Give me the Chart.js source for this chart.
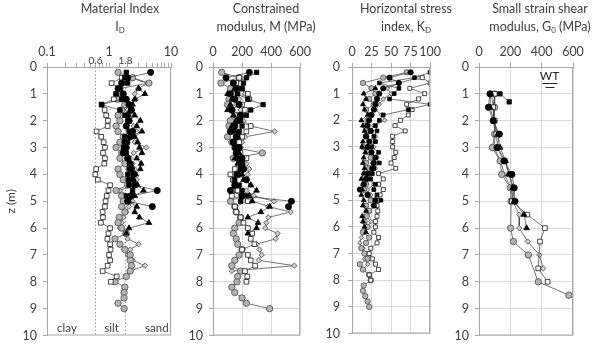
<!DOCTYPE html>
<html>
<head>
<meta charset="utf-8">
<script src="https://cdn.jsdelivr.net/npm/chart.js@4.4.1/dist/chart.umd.min.js"></script>
<style>
  html, body { margin: 0; padding: 0; background: #fff; }
  #wrap { position: relative; width: 594px; height: 349px; overflow: hidden; font-family: Lato, "Open Sans", sans-serif; color: #404040; }
  #wrap canvas { position: absolute; top: 0; }
  .ttl { position: absolute; top: 0; width: 130px; margin-left: -65px; text-align: center; font-size: 12.5px; line-height: 18px; white-space: nowrap; }
  .ttl sub { font-size: 8px; vertical-align: -2px; line-height: 0; }
</style>
</head>
<body>
<div id="wrap">
  <canvas id="cID" width="185" height="349" style="left:0"></canvas>
  <canvas id="cM" width="130" height="349" style="left:185px"></canvas>
  <canvas id="cKD" width="130" height="349" style="left:315px"></canvas>
  <canvas id="cG0" width="149" height="349" style="left:445px"></canvas>
  <div class="ttl" style="left:120px">Material Index<br>I<sub>D</sub></div>
  <div class="ttl" style="left:266px">Constrained<br>modulus, M (MPa)</div>
  <div class="ttl" style="left:406px">Horizontal stress<br>index, K<sub>D</sub></div>
  <div class="ttl" style="left:540px">Small strain shear<br>modulus, G<sub>0</sub> (MPa)</div>
</div>
<script>
// --- DMT soundings: depths (m) ---------------------------------------
const zA = [0.2,0.4,0.6,0.8,1.0,1.2,1.4,1.6,1.8,2.0,2.2,2.4,2.6,2.8,3.0,3.2,3.4,3.6,3.8,4.0,4.2,4.4,4.6,4.8,5.0,5.2];
const zB = [0.2,0.4,0.6,0.8,1.0,1.2,1.4,1.6,1.8,2.0,2.2,2.4,2.6,2.8,3.0,3.2,3.4,3.6,3.8,4.0,4.2,4.4,4.6,4.8,5.0];
const zC = [0.8,1.0,1.2,1.4,1.6,1.8,2.0,2.2,2.4,2.6,2.8,3.0,3.2,3.4,3.6,3.8,4.0,4.2,4.4,4.6,4.8,5.0,5.2,5.4,5.6,5.8,6.0,6.2];
const zD = [0.4,0.6,0.8,1.0,1.2,1.4,1.6,1.8,2.0,2.2,2.4,2.6,2.8,3.0,3.2,3.4,3.6,3.8,4.0,4.2,4.4,4.6,4.8,5.0,5.2,5.4,5.6,5.8,6.0,6.2,6.4,6.6,6.8,7.0,7.2,7.4,7.6,7.8,8.0];
const zE = [0.2,0.4,0.6,0.8,1.0,1.2,1.4,1.6,1.8,2.0,2.2,2.4,2.6,2.8,3.0,3.2,3.4,3.6,3.8,4.0,4.2,4.4,4.6,4.8,5.0,5.2,5.4,5.6,5.8,6.0,6.2,6.4,6.6,6.8,7.0,7.2,7.4,7.6,7.8,8.0,8.2,8.4,8.6,8.8,9.0];
const zF = [0.4,0.6,0.8,1.0,1.2,1.4,1.6,1.8,2.0,2.2,2.4,2.6,2.8,3.0,3.2,3.4,3.6,3.8,4.0,4.2,4.4,4.6,4.8,5.0,5.2,5.4,5.6,5.8,6.0,6.2,6.4,6.6,6.8,7.0,7.2,7.4,7.6];

// Material index ID
const idA = [4.7,2.0,1.6,1.4,1.7,1.9,2.1,2.3,2.0,2.1,1.9,2.4,2.2,1.8,1.9,1.7,2.0,2.2,2.3,2.5,2.1,2.6,6.0,2.3,2.0,5.0];
const idB = [1.9,1.8,2.0,1.5,1.3,1.6,0.76,1.5,1.8,2.0,1.9,2.1,1.8,2.0,1.7,1.9,2.0,2.2,2.1,2.0,2.3,2.1,2.4,1.9,2.0];
const idC = [3.0,3.8,2.6,2.4,2.2,2.6,3.2,2.8,3.4,2.6,2.9,3.1,3.4,2.8,3.3,3.2,2.7,2.5,2.9,3.6,2.6,2.1,2.8,2.6,3.1,4.4,2.1,1.9];
const idD = [1.6,1.1,1.5,1.3,1.2,0.76,0.85,0.9,0.96,0.95,0.63,0.75,0.82,0.86,0.8,0.86,0.84,0.62,0.6,0.66,1.04,0.98,0.92,0.88,0.86,0.79,0.8,0.74,1.04,0.98,0.94,1.04,1.06,1.0,1.04,0.95,0.79,1.33,1.07];
const idE = [1.4,2.4,4.4,1.5,1.6,1.4,1.8,1.6,1.4,1.5,1.3,1.4,1.7,1.5,1.3,1.6,1.5,1.8,1.4,1.5,1.7,2.0,1.3,1.6,1.7,1.6,1.8,1.46,1.4,1.6,1.9,1.25,1.5,1.8,2.2,2.2,2.3,2.2,1.9,1.25,1.8,1.75,1.75,1.4,1.75];
const idF = [2.2,4.2,3.0,2.6,2.7,2.3,2.0,2.4,2.2,2.5,2.8,2.3,2.6,4.0,2.5,2.2,2.4,2.6,2.3,2.8,2.4,1.5,2.1,2.4,2.1,1.9,1.7,1.6,1.5,1.8,2.0,3.0,2.2,2.0,2.4,3.8,2.2];

// Constrained modulus M (MPa)
const mA = [250,90,140,160,120,150,180,130,190,170,150,120,160,140,180,160,200,190,210,170,230,150,120,200,540,520];
const mB = [300,230,210,200,170,240,345,260,230,190,200,180,170,140,150,160,170,200,190,160,150,180,200,230,190];
const mC = [150,100,130,120,100,140,160,130,150,170,140,160,180,150,170,190,200,210,260,300,250,270,390,330,240,310,300,240];
const mD = [180,160,200,240,250,200,220,190,170,260,230,200,180,170,190,230,200,150,120,140,150,170,130,240,150,160,190,210,240,270,260,285,200,240,260,290,220,236,230];
const mE = [60,180,55,120,140,110,100,130,160,120,110,140,100,130,150,340,140,200,210,180,140,160,130,200,120,150,160,190,180,150,140,160,170,200,180,150,130,190,170,165,130,150,200,230,390];
const mF = [230,160,200,220,180,160,190,200,210,260,425,220,200,190,180,210,230,250,240,220,260,230,280,420,380,535,380,368,360,445,432,300,320,335,315,560,130];

// Horizontal stress index KD
const kA = [75,48,60,40,35,32,30,28,25,22,20,24,18,22,20,25,30,28,26,20,18,15,10,20,30,28];
const kB = [100,80,35,60,54,48,100,72,40,35,30,32,28,30,25,34,30,35,28,26,24,30,28,32,37];
const kC = [30,15,18,14,16,20,12,14,16,18,14,13,17,15,14,16,15,12,14,13,12,15,14,18,13,14,16,18];
const kD = [90,100,74,93,85,70,77,72,62,55,68,52,52,52,56,54,50,56,34,40,34,40,36,33,32,33,32,30,30,28,34,32,24,22,26,30,34,22,24];
const kE = [70,40,14,25,30,22,28,18,24,20,16,22,18,26,14,20,24,18,22,16,20,18,15,20,24,18,22,19,16,20,14,22,18,12,16,20,10,14,22,24,15,14,17,20,22];
const kF = [85,60,45,50,40,35,30,38,42,28,25,30,22,28,20,32,26,30,24,22,28,20,24,26,30,22,18,24,20,16,12,10,14,18,16,20,14];

// Seismic DMT: small strain shear modulus G0 (MPa)
const gzA = [1.0,1.5,2.0,2.5,3.0,3.5,4.0,4.5,5.0];
const gA  = [70,60,90,130,115,160,210,225,230];
const gzB = [1.0,1.3];
const gB  = [134,193];
const gzC = [1.0,1.5,2.0,2.5,3.0,3.5,4.0,4.5,5.0,5.5,6.0];
const gC  = [75,70,95,120,135,170,190,215,225,287,304];
const gzD = [1.0,1.5,2.0,2.5,3.0,3.5,4.0,4.5,5.0,5.5,6.0,6.5,7.5,8.0];
const gD  = [100,90,100,110,120,165,195,220,210,308,421,389,378,438];
const gzE = [1.0,1.5,2.0,2.5,3.0,3.5,4.0,4.5,5.0,6.0,6.5,7.0,8.0,8.5];
const gE  = [98,100,95,100,85,135,145,200,205,202,219,315,378,574];
const gzF = [1.0,1.5,2.0,2.5,3.0,3.5,4.0,4.5,5.0,5.5,6.0,6.5,7.0,7.5];
const gF  = [80,90,95,105,95,140,160,205,215,257,257,311,385,410];

const ID_LIMITS = [0.6, 1.8];
const SOIL_LABELS = [['clay', 0.21], ['silt', 1.1], ['sand', 5.9]];
const WT_DEPTH = 0.58;

// marker look per sounding
const MK = {
  A: { shape: 'circle',   fill: '#000000', edge: '#000000', r: 3.1 },
  B: { shape: 'rect',     fill: '#000000', edge: '#000000', r: 3.1 },
  C: { shape: 'triangle', fill: '#000000', edge: '#000000', r: 3.3 },
  D: { shape: 'rect',     fill: '#ffffff', edge: '#1a1a1a', r: 3.3 },
  E: { shape: 'circle',   fill: '#b3b3b3', edge: '#4d4d4d', r: 3.2 },
  F: { shape: 'rectRot',  fill: '#cccccc', edge: '#4d4d4d', r: 2.7 }
};

Chart.defaults.font.family = 'Lato, "Open Sans", sans-serif';
Chart.defaults.color = '#404040';

function series(mk, depths, vals, scale) {
  const s = scale || 1;
  return {
    data: depths.map((z, i) => ({ x: vals[i], y: z })),
    showLine: true,
    borderColor: '#3a3a3a',
    borderWidth: 0.7,
    pointStyle: mk.shape,
    pointRadius: mk.r * s,
    pointBackgroundColor: mk.fill,
    pointBorderColor: mk.edge,
    pointBorderWidth: 0.8
  };
}

function dmtSets(a, b, c, d, e, f, scale) {
  return [
    series(MK.A, zA, a, scale), series(MK.B, zB, b, scale), series(MK.C, zC, c, scale),
    series(MK.D, zD, d, scale), series(MK.E, zE, e, scale), series(MK.F, zF, f, scale)
  ];
}

/** box around the plot area */
const framePlugin = {
  id: 'frame',
  afterDraw(chart) {
    const a = chart.chartArea, ctx = chart.ctx;
    ctx.save();
    ctx.strokeStyle = '#a6a6a6';
    ctx.lineWidth = 1;
    ctx.strokeRect(a.left + 0.5, a.top + 0.5, a.right - a.left - 1, a.bottom - a.top - 1);
    ctx.restore();
  }
};

/** ID boundaries 0.6 / 1.8 and soil names */
const soilPlugin = {
  id: 'soil',
  beforeDatasetsDraw(chart) {
    const { ctx, chartArea: a, scales: { x, y } } = chart;
    ctx.save();
    ctx.strokeStyle = '#7f7f7f';
    ctx.lineWidth = 0.8;
    ctx.setLineDash([1.5, 2]);
    ctx.font = '10px Lato, "Open Sans", sans-serif';
    ctx.fillStyle = '#404040';
    ctx.textAlign = 'center';
    ctx.textBaseline = 'bottom';
    ID_LIMITS.forEach(v => {
      const px = Math.round(x.getPixelForValue(v)) + 0.5;
      ctx.beginPath(); ctx.moveTo(px, a.top); ctx.lineTo(px, a.bottom); ctx.stroke();
      ctx.fillText(String(v), px, a.top - 1);
    });
    ctx.setLineDash([]);
    ctx.font = '11.5px Lato, "Open Sans", sans-serif';
    ctx.textBaseline = 'middle';
    SOIL_LABELS.forEach(([t, v]) => ctx.fillText(t, x.getPixelForValue(v), y.getPixelForValue(9.72)));
    ctx.restore();
  }
};

/** water table symbol */
const wtPlugin = {
  id: 'wt',
  afterDraw(chart) {
    const { ctx, scales: { x, y } } = chart;
    const cx = x.getPixelForValue(450), py = Math.round(y.getPixelForValue(WT_DEPTH)) + 0.5;
    ctx.save();
    ctx.fillStyle = '#262626';
    ctx.strokeStyle = '#262626';
    ctx.lineWidth = 1;
    ctx.font = '12px Lato, "Open Sans", sans-serif';
    ctx.textAlign = 'center';
    ctx.textBaseline = 'bottom';
    ctx.fillText('WT', cx, py - 1);
    ctx.beginPath();
    ctx.moveTo(cx - 7, py); ctx.lineTo(cx + 8, py);
    ctx.moveTo(cx - 4, py + 4); ctx.lineTo(cx + 5, py + 4);
    ctx.stroke();
    ctx.restore();
  }
};

function panel(id, cfg) {
  const xTicks = { autoSkip: false, maxRotation: 0, padding: 4, font: { size: 12.5 } };
  if (cfg.xStep) xTicks.stepSize = cfg.xStep;
  if (cfg.xLabel) xTicks.callback = cfg.xLabel;
  return new Chart(document.getElementById(id), {
    type: 'scatter',
    data: { datasets: cfg.datasets },
    options: {
      responsive: false, animation: false, devicePixelRatio: 1,
      layout: { padding: { left: 0, top: 0, right: cfg.padRight, bottom: 10 } },
      plugins: { legend: { display: false }, tooltip: { enabled: false } },
      scales: {
        x: {
          type: cfg.xType || 'linear', position: 'top', min: cfg.xMin, max: cfg.xMax,
          ticks: xTicks,
          grid: { drawOnChartArea: cfg.grid, color: '#d9d9d9', tickColor: '#a6a6a6', tickLength: 4 },
          border: { color: '#a6a6a6' },
          afterFit: s => { s.height = 67; }
        },
        y: {
          min: 0, max: 10, reverse: true,
          ticks: { stepSize: 1, padding: cfg.yPad, font: { size: 12.5 } },
          grid: { drawOnChartArea: cfg.grid, color: '#d9d9d9', tickColor: '#a6a6a6', tickLength: 4 },
          border: { color: '#a6a6a6' },
          title: cfg.yTitle
            ? { display: true, text: cfg.yTitle, font: { size: 12 }, padding: { top: 4, bottom: 0 } }
            : { display: false },
          afterFit: s => { s.width = cfg.yWidth; }
        }
      }
    },
    plugins: [framePlugin].concat(cfg.plugins || [])
  });
}

const isDecade = v => Math.abs(Math.log10(v) - Math.round(Math.log10(v))) < 1e-6;

panel('cID', {
  datasets: dmtSets(idA, idB, idC, idD, idE, idF),
  xType: 'logarithmic', xMin: 0.1, xMax: 10,
  xLabel: v => (isDecade(v) ? String(Number(v.toPrecision(3))) : ''),
  grid: false, yWidth: 47, yPad: 6, padRight: 14, yTitle: 'z (m)',
  plugins: [soilPlugin]
});

panel('cM', {
  datasets: dmtSets(mA, mB, mC, mD, mE, mF),
  xMin: 0, xMax: 600, xStep: 200,
  grid: true, yWidth: 28, yPad: 6, padRight: 9
});

panel('cKD', {
  datasets: dmtSets(kA, kB, kC, kD, kE, kF, 0.85),
  xMin: 0, xMax: 100, xStep: 25,
  grid: true, yWidth: 37, yPad: 8, padRight: 10
});

panel('cG0', {
  datasets: [
    series(MK.A, gzA, gA), series(MK.B, gzB, gB), series(MK.C, gzC, gC),
    series(MK.D, gzD, gD), series(MK.E, gzE, gE), series(MK.F, gzF, gF)
  ],
  xMin: 0, xMax: 600, xStep: 200,
  grid: true, yWidth: 34, yPad: 6, padRight: 21,
  plugins: [wtPlugin]
});
</script>
</body>
</html>
